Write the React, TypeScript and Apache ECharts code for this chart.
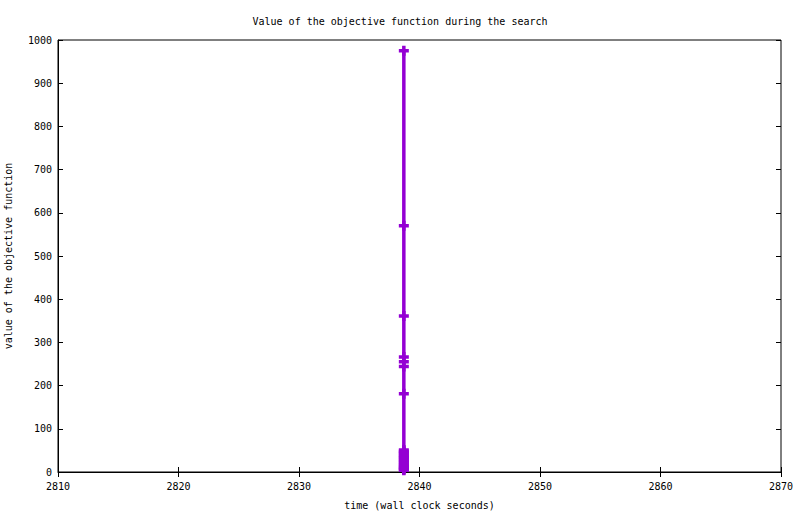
import React, { useEffect, useRef } from "react";
import * as echarts from "echarts";

const chartTitle = "Value of the objective function during the search";
const xAxisName = "time (wall clock seconds)";
const yAxisName = "value of the objective function";

const times = [
  2838.7, 2838.7, 2838.7, 2838.7, 2838.7, 2838.7, 2838.7, 2838.7, 2838.7, 2838.7,
  2838.7, 2838.7, 2838.7, 2838.7, 2838.7, 2838.7, 2838.7, 2838.7, 2838.7, 2838.7,
  2838.7, 2838.7, 2838.7, 2838.7, 2838.7,
];
const objective = [
  975, 570, 361, 266, 255, 244, 181, 51, 48, 45, 42, 39, 36, 33, 30, 27, 24, 21, 18, 15, 12, 10, 8, 6, 4,
];

const PURPLE = "#9400d3";
const FONT = "DejaVu Sans Mono";
const plusSymbol = "path://M3.25,0H6.75V10H3.25Z M0,3.25H10V6.75H0Z";

export default function App() {
  const ref = useRef<HTMLDivElement>(null);
  useEffect(() => {
    if (!ref.current) return;
    const chart = echarts.init(ref.current, undefined, { renderer: "svg" });
    const data = times.map((t, i) => [t, objective[i]]);
    const tickStyle = { show: true, inside: true, length: 5, lineStyle: { color: "#000", width: 1 } };
    const plain = (v: number) => String(v);
    chart.setOption({
      animation: false,
      backgroundColor: "#fff",
      title: {
        text: chartTitle,
        left: "center",
        top: 11,
        textStyle: { fontFamily: FONT, fontSize: 10, fontWeight: "normal", color: "#000" },
      },
      grid: {
        left: 58,
        right: 19,
        top: 40,
        bottom: 42,
        containLabel: false,
        outerBoundsMode: "none",
        show: true,
        borderColor: "#000",
        borderWidth: 1,
        backgroundColor: "transparent",
      },
      xAxis: [
        {
          type: "value",
          min: 2810,
          max: 2870,
          interval: 10,
          name: xAxisName,
          nameLocation: "middle",
          nameGap: 28,
          nameTextStyle: { fontFamily: FONT, fontSize: 10, color: "#000" },
          axisLine: { show: true, lineStyle: { color: "#000", width: 1 } },
          axisTick: tickStyle,
          axisLabel: { fontFamily: FONT, fontSize: 10, color: "#000", margin: 9, formatter: plain },
          splitLine: { show: false },
        },
        {
          type: "value",
          position: "top",
          min: 2810,
          max: 2870,
          interval: 10,
          axisLine: { show: false },
          axisTick: tickStyle,
          axisLabel: { show: false },
          splitLine: { show: false },
        },
      ],
      yAxis: [
        {
          type: "value",
          min: 0,
          max: 1000,
          interval: 100,
          name: yAxisName,
          nameLocation: "middle",
          nameGap: 45,
          nameRotate: 90,
          nameTextStyle: { fontFamily: FONT, fontSize: 10, color: "#000" },
          axisLine: { show: true, lineStyle: { color: "#000", width: 1 } },
          axisTick: tickStyle,
          axisLabel: { fontFamily: FONT, fontSize: 10, color: "#000", margin: 6, formatter: plain },
          splitLine: { show: false },
        },
        {
          type: "value",
          position: "right",
          min: 0,
          max: 1000,
          interval: 100,
          axisLine: { show: false },
          axisTick: tickStyle,
          axisLabel: { show: false },
          splitLine: { show: false },
        },
      ],
      series: [
        {
          type: "line",
          data,
          xAxisIndex: 0,
          yAxisIndex: 0,
          symbol: plusSymbol,
          symbolSize: 10,
          showAllSymbol: true,
          lineStyle: { color: PURPLE, width: 3.5 },
          itemStyle: { color: PURPLE },
          clip: false,
        },
      ],
    });
    return () => chart.dispose();
  }, []);
  return (
    <div
      ref={ref}
      style={{ position: "fixed", left: 0, top: 0, width: 800, height: 514, background: "#fff" }}
    />
  );
}
